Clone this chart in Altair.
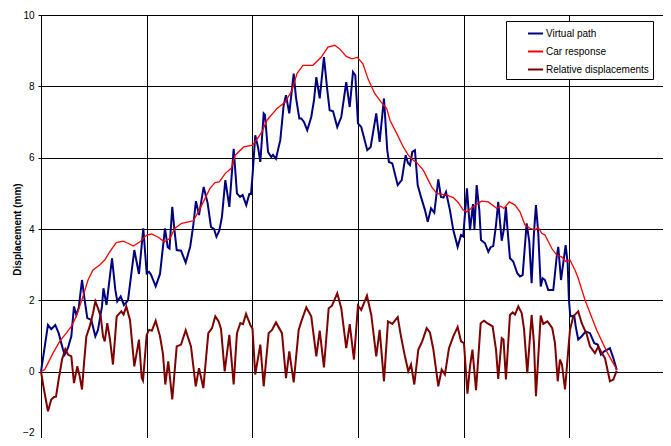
import altair as alt
import pandas as pd

SERIES = ["Virtual path", "Car response", "Relative displacements"]
COLORS = ["#000080", "#FF0000", "#800000"]
WIDTHS = [2, 1.3, 2]

Y_TICKS = [-2, 0, 2, 4, 6, 8, 10]
X_GRID = [0, 1, 2, 3, 4, 5]

# Virtual path (time units, mm)
vp_t = [0.000, 0.066, 0.097, 0.135, 0.167, 0.208, 0.224, 0.255, 0.287, 0.312,
        0.334, 0.357, 0.388, 0.413, 0.438, 0.476, 0.514, 0.539, 0.577, 0.591,
        0.620, 0.672, 0.703, 0.722, 0.754, 0.785, 0.823, 0.883, 0.927, 0.968,
        1.000, 1.022, 1.041, 1.085, 1.126, 1.173, 1.199, 1.216, 1.242, 1.261,
        1.284, 1.325, 1.369, 1.412, 1.441, 1.466, 1.495, 1.539, 1.577, 1.608,
        1.637, 1.660, 1.687, 1.712, 1.744, 1.782, 1.823, 1.854, 1.883, 1.908,
        1.942, 1.971, 1.987, 2.003, 2.027, 2.053, 2.075, 2.107, 2.119, 2.148,
        2.179, 2.195, 2.223, 2.264, 2.296, 2.318, 2.349, 2.391, 2.412, 2.444,
        2.463, 2.488, 2.519, 2.557, 2.583, 2.605, 2.637, 2.677, 2.709, 2.731,
        2.763, 2.803, 2.841, 2.888, 2.921, 2.952, 2.974, 2.999, 3.030, 3.087,
        3.119, 3.172, 3.204, 3.245, 3.276, 3.292, 3.324, 3.375, 3.413, 3.450,
        3.472, 3.491, 3.513, 3.538, 3.564, 3.595, 3.633, 3.659, 3.690, 3.721,
        3.759, 3.784, 3.808, 3.832, 3.869, 3.901, 3.942, 3.974, 3.995, 4.030,
        4.059, 4.087, 4.101, 4.122, 4.147, 4.163, 4.201, 4.232, 4.254, 4.279,
        4.305, 4.326, 4.359, 4.380, 4.399, 4.412, 4.437, 4.468, 4.506, 4.532,
        4.557, 4.595, 4.620, 4.642, 4.664, 4.683, 4.705, 4.728, 4.746, 4.768,
        4.799, 4.847, 4.879, 4.894, 4.920, 4.964, 4.983, 4.995, 5.008, 5.045,
        5.059, 5.083, 5.116, 5.153, 5.194, 5.235, 5.267, 5.298, 5.329, 5.383,
        5.415, 5.447]
vp_mm = [0.00, 1.31, 1.19, 1.31, 1.08, 0.62, 0.48, 0.67, 0.99, 1.83,
         1.59, 1.79, 2.57, 2.01, 1.50, 1.45, 0.99, 1.17, 1.83, 2.34,
         1.87, 3.18, 2.30, 1.97, 2.11, 1.87, 2.00, 3.41, 2.74, 4.02,
         2.76, 2.80, 2.72, 2.39, 2.74, 4.02, 3.49, 3.45, 4.62, 4.02,
         3.41, 3.39, 3.06, 3.51, 4.11, 4.78, 4.39, 5.18, 4.72, 4.06,
         4.00, 3.78, 3.95, 4.34, 5.37, 4.62, 6.25, 5.00, 4.90, 4.95,
         4.67, 4.98, 4.98, 5.56, 6.63, 6.30, 5.88, 7.24, 7.20, 6.16,
         6.02, 6.08, 5.97, 6.49, 7.47, 7.75, 7.24, 8.36, 7.70, 7.10,
         7.10, 7.00, 6.77, 7.14, 7.61, 8.26, 7.66, 8.82, 7.89, 7.33,
         7.30, 6.86, 7.14, 8.12, 7.42, 8.40, 8.31, 6.96, 6.86, 6.21,
         6.30, 7.24, 6.44, 7.66, 6.21, 5.88, 5.84, 5.23, 5.37, 6.07,
         5.85, 5.79, 6.16, 6.21, 5.23, 4.90, 4.53, 4.20, 4.58, 4.46,
         5.39, 4.90, 4.88, 5.04, 4.53, 3.97, 3.50, 3.83, 3.79, 5.14,
         3.97, 4.70, 4.00, 5.23, 4.53, 3.69, 3.60, 3.36, 3.49, 3.52,
         4.11, 4.76, 3.67, 4.00, 4.62, 4.06, 3.18, 3.09, 2.76, 2.67,
         2.71, 4.16, 3.64, 2.48, 3.88, 4.67, 3.88, 2.39, 2.62, 2.57,
         2.29, 2.29, 3.22, 3.50, 2.57, 3.55, 3.04, 2.01, 1.55, 1.57,
         1.27, 0.90, 0.99, 1.13, 1.08, 0.80, 0.76, 0.48, 0.57, 0.66,
         0.38, 0.05]

# Car response
car_t = [0.000, 0.035, 0.066, 0.114, 0.177, 0.239, 0.287, 0.334, 0.397, 0.445,
         0.492, 0.555, 0.603, 0.650, 0.712, 0.776, 0.823, 0.873, 0.937, 1.000,
         1.047, 1.110, 1.167, 1.220, 1.268, 1.331, 1.394, 1.441, 1.488, 1.536,
         1.599, 1.646, 1.687, 1.744, 1.800, 1.838, 1.918, 2.003, 2.091, 2.138,
         2.233, 2.311, 2.375, 2.422, 2.479, 2.573, 2.652, 2.715, 2.779, 2.826,
         2.888, 2.942, 2.993, 3.046, 3.094, 3.157, 3.220, 3.271, 3.302, 3.365,
         3.428, 3.475, 3.522, 3.555, 3.617, 3.696, 3.744, 3.838, 3.901, 3.945,
         3.995, 4.028, 4.081, 4.169, 4.232, 4.311, 4.349, 4.380, 4.431, 4.485,
         4.532, 4.579, 4.626, 4.674, 4.705, 4.737, 4.768, 4.832, 4.879, 4.926,
         4.964, 5.005, 5.052, 5.083, 5.147, 5.257, 5.352, 5.447]
car_mm = [0.00, 0.06, 0.24, 0.52, 0.85, 1.08, 1.27, 1.55, 2.11, 2.57,
          2.85, 2.99, 3.13, 3.36, 3.62, 3.66, 3.60, 3.52, 3.64, 3.83,
          3.86, 3.77, 3.64, 3.74, 4.02, 4.16, 4.20, 4.23, 4.48, 4.76,
          5.14, 5.30, 5.32, 5.56, 5.70, 6.07, 6.30, 6.35, 6.72, 7.05,
          7.38, 7.56, 7.89, 8.36, 8.59, 8.59, 8.82, 9.10, 9.15, 9.05,
          8.84, 8.77, 8.81, 8.63, 8.21, 7.80, 7.55, 7.38, 7.05, 6.68,
          6.30, 6.07, 5.93, 5.86, 5.65, 5.18, 5.00, 4.95, 4.88, 4.75,
          4.53, 4.48, 4.61, 4.78, 4.76, 4.58, 4.64, 4.58, 4.76, 4.67,
          4.48, 4.11, 4.02, 3.97, 4.04, 3.88, 3.83, 3.46, 3.27, 3.22,
          3.09, 3.13, 2.85, 2.62, 2.01, 1.17, 0.57, 0.06]

# Relative displacements
rel_t = [0.000, 0.028, 0.066, 0.097, 0.123, 0.142, 0.167, 0.199, 0.230, 0.255,
         0.287, 0.312, 0.343, 0.366, 0.388, 0.407, 0.429, 0.461, 0.492, 0.514,
         0.539, 0.565, 0.587, 0.603, 0.627, 0.653, 0.681, 0.716, 0.760, 0.781,
         0.807, 0.842, 0.883, 0.927, 0.953, 0.965, 1.000, 1.022, 1.050, 1.085,
         1.126, 1.154, 1.176, 1.204, 1.242, 1.284, 1.325, 1.369, 1.419, 1.464,
         1.495, 1.536, 1.583, 1.618, 1.649, 1.681, 1.703, 1.738, 1.782, 1.823,
         1.854, 1.886, 1.911, 1.940, 1.980, 2.001, 2.027, 2.075, 2.107, 2.154,
         2.186, 2.223, 2.280, 2.318, 2.349, 2.391, 2.438, 2.463, 2.510, 2.557,
         2.605, 2.637, 2.677, 2.722, 2.753, 2.803, 2.841, 2.888, 2.921, 2.961,
         2.999, 3.030, 3.084, 3.125, 3.172, 3.204, 3.245, 3.283, 3.324, 3.375,
         3.406, 3.437, 3.475, 3.501, 3.532, 3.570, 3.607, 3.649, 3.680, 3.712,
         3.759, 3.791, 3.822, 3.860, 3.901, 3.942, 3.974, 4.002, 4.035, 4.059,
         4.082, 4.116, 4.160, 4.191, 4.222, 4.273, 4.305, 4.326, 4.359, 4.376,
         4.399, 4.437, 4.463, 4.485, 4.516, 4.548, 4.570, 4.601, 4.642, 4.664,
         4.683, 4.728, 4.752, 4.790, 4.816, 4.837, 4.863, 4.889, 4.910, 4.929,
         4.958, 4.989, 5.005, 5.036, 5.083, 5.116, 5.163, 5.194, 5.241, 5.273,
         5.305, 5.336, 5.383, 5.415, 5.447]
rel_mm = [0.00, -0.50, -1.11, -0.78, -0.71, -0.70, -0.22, 0.34, 0.63, 0.48,
          0.43, -0.32, 0.15, -0.13, -0.50, 0.24, 0.99, 1.27, 1.64, 1.97,
          1.78, 1.55, 0.99, 0.85, 1.36, 0.90, 0.20, 1.55, 1.69, 1.60,
          1.83, 1.45, 0.15, 0.90, -0.18, -0.25, 1.03, 1.17, 1.15, 1.43,
          0.99, 0.50, -0.36, 0.29, -0.78, 0.71, 0.76, 1.16, 0.71, -0.41,
          0.10, -0.46, 1.08, 1.22, 1.55, 1.41, 1.20, 0.01, 1.03, -0.36,
          1.08, 1.36, 1.33, 1.62, 1.31, 1.20, -0.08, 0.76, -0.41, 1.08,
          1.17, 1.38, 1.08, -0.18, 0.57, -0.30, 1.17, 1.41, 1.80, 1.55,
          0.43, 1.15, 0.12, 1.78, 1.85, 2.20, 1.78, 0.66, 1.33, 0.34,
          1.85, 1.73, 2.13, 1.59, 0.43, 1.17, -0.27, 1.41, 1.34, 1.53,
          0.99, 0.52, 0.01, 0.20, -0.36, 0.62, 0.85, 1.22, 1.10, 0.63,
          -0.41, 0.06, -0.08, 0.66, 0.99, 1.25, 0.85, 0.80, -0.62, 0.15,
          0.62, -0.52, 1.36, 1.43, 1.36, 1.27, 0.62, -0.20, 0.94, 0.90,
          -0.22, 1.59, 1.66, 1.60, 1.83, 1.64, 1.20, -0.04, 1.59, 0.80,
          -0.69, 1.57, 1.34, 1.41, 1.31, 1.22, 0.80, -0.27, 0.34, 0.20,
          -0.50, 0.62, 1.17, 1.55, 1.69, 1.36, 1.05, 0.71, 0.52, 0.71,
          0.52, 0.38, -0.27, -0.22, 0.03]

frames = []
for name, tt, yy in [(SERIES[0], vp_t, vp_mm), (SERIES[1], car_t, car_mm), (SERIES[2], rel_t, rel_mm)]:
    frames.append(pd.DataFrame({"t": tt, "mm": yy, "series": name, "order": range(len(tt))}))
df = pd.concat(frames, ignore_index=True)

FONT = "Liberation Sans"

x_enc = alt.X("t:Q", scale=alt.Scale(domain=[0, 5.885], nice=False, zero=False),
              axis=alt.Axis(values=X_GRID, labels=False, title=None, grid=True,
                            tickSize=3, domainColor="#000000", tickColor="#000000",
                            gridColor="#000000"))
y_enc = alt.Y("mm:Q", scale=alt.Scale(domain=[-2, 10], nice=False, zero=False),
              axis=alt.Axis(values=Y_TICKS, title="Displacement (mm)", grid=True,
                            tickSize=3, labelPadding=4, titlePadding=0,
                            labelBaseline={"condition": {"test": "datum.value === -2", "value": "bottom"},
                                           "value": "middle"},
                            labelOffset={"condition": {"test": "datum.value === -2", "value": -6},
                                         "value": 0},
                            titleFontWeight="bold", titleFontSize=10, titleFont=FONT,
                            labelFont=FONT, labelFontSize=10, labelColor="#000000",
                            titleColor="#000000", domainColor="#000000",
                            tickColor="#000000", gridColor="#000000"))
color_enc = alt.Color("series:N",
                      scale=alt.Scale(domain=SERIES, range=COLORS),
                      legend=alt.Legend(title=None, orient="none", legendX=465, legendY=6,
                                        symbolType="stroke", symbolSize=225,
                                        symbolStrokeWidth=2, labelFont=FONT,
                                        labelFontSize=10, labelColor="#000000",
                                        rowPadding=4, padding=4, symbolOffset=17,
                                        labelOffset=2,
                                        strokeColor="#000000", fillColor="#FFFFFF"))

layers = []
for name, w in zip(SERIES, WIDTHS):
    layers.append(
        alt.Chart(df).transform_filter(alt.datum.series == name)
        .mark_line(strokeWidth=w, interpolate="linear")
        .encode(x=x_enc, y=y_enc, color=color_enc, order="order:Q")
    )

chart = alt.layer(*layers).properties(
    width=622, height=428,
    padding={"left": 33, "top": 7, "right": 0, "bottom": -5},
    autosize=alt.AutoSizeParams(type="none"),
    background="#FFFFFF",
).configure_view(stroke=None).configure_axis(gridOpacity=1, gridWidth=1, domainWidth=1)

chart.save("out.html", embed_options={"renderer": "svg", "actions": False})
